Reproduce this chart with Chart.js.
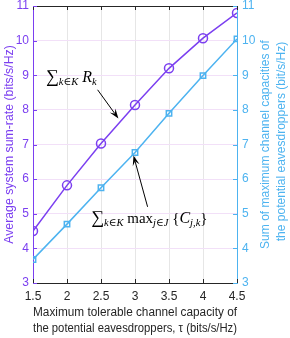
<!DOCTYPE html>
<html>
<head>
<meta charset="utf-8">
<script src="https://cdn.jsdelivr.net/npm/chart.js@4"></script>
<style>
  html, body { margin: 0; padding: 0; background: #fff; }
  #wrap { width: 290px; height: 338px; }
</style>
</head>
<body>
<div id="wrap"><canvas id="grafico" width="290" height="338"></canvas></div>
<script>
const taus = [1.5, 2, 2.5, 3, 3.5, 4, 4.5];
const somaTaxa = [4.5, 5.82, 7.03, 8.14, 9.2, 10.07, 10.8];
const somaCapacidade = [3.68, 4.7, 5.75, 6.77, 7.9, 8.99, 10.05];

const ROXO = '#7B3FF0';
const AZUL = '#4DB3F0';
const CINZA = '#262626';
const sans = "'Liberation Sans', Arial, sans-serif";
const serif = "'Liberation Serif', 'DejaVu Serif', serif";

// draw a run of text pieces: [text, size, italic, dy]
function textoMat(ctx, x, y, partes) {
    let cx = x;
    partes.forEach(p => {
        ctx.font = (p[2] ? 'italic ' : '') + p[1] + 'px ' + serif;
        ctx.fillText(p[0], cx, y + (p[3] || 0));
        cx += ctx.measureText(p[0]).width;
    });
}

function seta(ctx, x1, y1, x2, y2) {
    const ang = Math.atan2(y2 - y1, x2 - x1);
    ctx.strokeStyle = '#000';
    ctx.fillStyle = '#000';
    ctx.lineWidth = 1;
    ctx.beginPath();
    ctx.moveTo(x1, y1);
    ctx.lineTo(x2 - 6 * Math.cos(ang), y2 - 6 * Math.sin(ang));
    ctx.stroke();
    ctx.beginPath();
    ctx.moveTo(x2, y2);
    ctx.lineTo(x2 - 10 * Math.cos(ang) + 3.5 * Math.sin(ang), y2 - 10 * Math.sin(ang) - 3.5 * Math.cos(ang));
    ctx.lineTo(x2 - 6 * Math.cos(ang), y2 - 6 * Math.sin(ang));
    ctx.lineTo(x2 - 10 * Math.cos(ang) - 3.5 * Math.sin(ang), y2 - 10 * Math.sin(ang) + 3.5 * Math.cos(ang));
    ctx.closePath();
    ctx.fill();
}

const extras = {
    id: 'extras',
    afterDraw(chart) {
        const ctx = chart.ctx;
        const a = chart.chartArea;
        const sx = chart.scales.x, sy = chart.scales.y;
        ctx.save();
        // top frame line
        ctx.strokeStyle = CINZA;
        ctx.lineWidth = 1;
        ctx.beginPath();
        ctx.moveTo(a.left, a.top + 0.5);
        ctx.lineTo(a.right, a.top + 0.5);
        ctx.stroke();
        // inner ticks
        taus.forEach(t => {
            const px = Math.round(sx.getPixelForValue(t)) + 0.5;
            ctx.beginPath();
            ctx.moveTo(px, a.bottom); ctx.lineTo(px, a.bottom - 4);
            ctx.moveTo(px, a.top); ctx.lineTo(px, a.top + 4);
            ctx.stroke();
        });
        for (let v = 3; v <= 11; v++) {
            const py = Math.round(sy.getPixelForValue(v)) + 0.5;
            ctx.strokeStyle = ROXO;
            ctx.beginPath(); ctx.moveTo(a.left, py); ctx.lineTo(a.left + 4, py); ctx.stroke();
            ctx.strokeStyle = AZUL;
            ctx.beginPath(); ctx.moveTo(a.right, py); ctx.lineTo(a.right - 4, py); ctx.stroke();
        }
        // right axis title, reading bottom to top
        ctx.fillStyle = AZUL;
        ctx.font = '12px ' + sans;
        ctx.textAlign = 'center';
        ctx.textBaseline = 'middle';
        const cy = (a.top + a.bottom) / 2;
        ctx.save();
        ctx.translate(266, cy);
        ctx.rotate(-Math.PI / 2);
        ctx.fillText('Sum of maximum channel capacities of', 0, 0);
        ctx.restore();
        ctx.save();
        ctx.translate(282, cy - 3);
        ctx.rotate(-Math.PI / 2);
        ctx.fillText('the potential eavesdroppers (bit/s/Hz)', 0, 0);
        ctx.restore();
        // annotations
        ctx.fillStyle = '#000';
        ctx.textAlign = 'left';
        ctx.textBaseline = 'alphabetic';
        textoMat(ctx, sx.getPixelForValue(1.69), sy.getPixelForValue(8.8), [
            ['\u2211', 18, false, 0], ['k\u2208K', 10.5, true, 3], [' R', 16, true, 0], ['k', 10.5, true, 3]
        ]);
        textoMat(ctx, sx.getPixelForValue(2.357), sy.getPixelForValue(4.72), [
            ['\u2211', 18, false, 0], ['k\u2208K', 10.5, true, 3], [' max', 15, false, 0], ['j\u2208J', 10.5, true, 3],
            [' {', 15, false, 0], ['C', 16, true, 0], ['j,k', 10.5, true, 3], ['}', 15, false, 0]
        ]);
        seta(ctx, sx.getPixelForValue(2.45), sy.getPixelForValue(8.58), sx.getPixelForValue(2.756), sy.getPixelForValue(7.75));
        seta(ctx, sx.getPixelForValue(3.185), sy.getPixelForValue(5.2), sx.getPixelForValue(2.978), sy.getPixelForValue(6.68));
        ctx.restore();
    }
};

const rotulo = v => String(v);

new Chart(document.getElementById('grafico'), {
    type: 'line',
    data: {
        datasets: [{
            data: taus.map((t, i) => ({ x: t, y: somaTaxa[i] })),
            yAxisID: 'y',
            borderColor: ROXO,
            borderWidth: 1.5,
            pointStyle: 'circle',
            pointRadius: 4.5,
            pointBorderWidth: 1.5,
            pointBorderColor: ROXO,
            pointBackgroundColor: 'rgba(0,0,0,0)'
        }, {
            data: taus.map((t, i) => ({ x: t, y: somaCapacidade[i] })),
            yAxisID: 'y2',
            borderColor: AZUL,
            borderWidth: 1.5,
            pointStyle: 'rect',
            pointRadius: 3.8,
            pointBorderWidth: 1.5,
            pointBorderColor: AZUL,
            pointBackgroundColor: 'rgba(0,0,0,0)'
        }]
    },
    options: {
        responsive: false,
        animation: false,
        layout: { padding: { top: 4, left: 0, right: 0, bottom: 0 } },
        plugins: { legend: { display: false }, tooltip: { enabled: false } },
        scales: {
            x: {
                type: 'linear', min: 1.5, max: 4.5,
                afterFit(s) { s.height = 55; s.paddingLeft = 0; s.paddingRight = 0; },
                grid: { color: '#E6E6E6', drawTicks: false },
                border: { color: CINZA },
                ticks: { stepSize: 0.5, padding: 6, color: CINZA, font: { family: sans, size: 12 }, maxRotation: 0, callback: rotulo },
                title: {
                    display: true,
                    text: ['Maximum tolerable channel capacity of', 'the potential eavesdroppers, \u03C4 (bits/s/Hz)'],
                    color: CINZA, font: { family: sans, size: 12.3, lineHeight: 1.3 },
                    padding: { top: 0, bottom: 1 }
                }
            },
            y: {
                position: 'left', min: 3, max: 11,
                afterFit(s) { s.width = 33; s.paddingTop = 0; s.paddingBottom = 0; },
                grid: { color: '#F2E0F8', drawTicks: false },
                border: { color: ROXO },
                ticks: { stepSize: 1, padding: 4, color: ROXO, font: { family: sans, size: 12 }, callback: rotulo },
                title: {
                    display: true, text: 'Average system sum-rate (bits/s/Hz)',
                    color: ROXO, font: { family: sans, size: 12.3, lineHeight: 1.2 },
                    padding: { top: 2, bottom: 0 }
                }
            },
            y2: {
                position: 'right', min: 3, max: 11,
                afterFit(s) { s.width = 53; s.paddingTop = 0; s.paddingBottom = 0; },
                grid: { display: false, drawTicks: false },
                border: { color: AZUL },
                ticks: { stepSize: 1, padding: 5, color: AZUL, font: { family: sans, size: 12 }, callback: rotulo }
            }
        }
    },
    plugins: [extras]
});
</script>
</body>
</html>
